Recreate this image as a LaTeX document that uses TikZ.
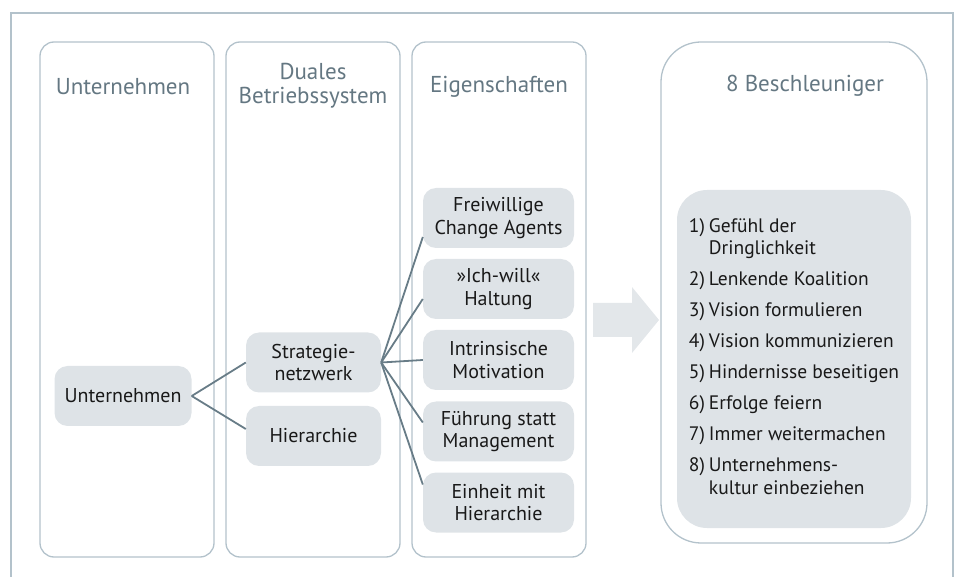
\documentclass[tikz,border=0pt]{standalone}
\usepackage{fontspec}
\setmainfont{PT Sans}
\definecolor{framecol}{HTML}{B3C2CB}
\definecolor{boxfill}{HTML}{DEE3E7}
\definecolor{linecol}{HTML}{687C87}
\definecolor{titlecol}{HTML}{647782}
\definecolor{arrowfill}{HTML}{E3E7EA}
\tikzset{
  column/.style={draw=framecol, line width=1.3pt, rounded corners=14pt},
  coltitle/.style={text=titlecol, font=\fontsize{23}{24}\selectfont, align=center},
  item/.style={fill=boxfill, rounded corners=13pt, minimum height=60pt,
    align=center, inner sep=0pt, text=black!90, font=\fontsize{20}{22.5}\selectfont},
  link/.style={draw=linecol, line width=1.8pt}
}
\begin{document}
\begin{tikzpicture}[x=1pt,y=-1pt]
  \useasboundingbox (0,0) rectangle (954,577);
  \draw[draw=framecol, line width=1.5pt] (11,577) -- (11,13) -- (953,13) -- (953,577);
  \draw[column] (40,42) rectangle (214,557);
  \draw[column] (226,42) rectangle (400,557);
  \draw[column] (412,42) rectangle (586,557);
  \draw[column, rounded corners=40pt] (661,42) rectangle (927,543);
  \node[coltitle] (t1) at (123,87) {Unternehmen};
  \node[coltitle] (t2) at (313,86) {Duales\\Betriebssystem};
  \node[coltitle] (t3) at (499,87) {Eigenschaften};
  \node[coltitle] (t4) at (805,86) {8 Beschleuniger};
  \draw
    (123,396) node[item, minimum width=137pt] (u){Unternehmen}
    (313.5,362.5) node[item, minimum width=135pt] (sn){Strategie-\\netzwerk}
    (313.5,436) node[item, minimum width=135pt] (h){Hierarchie}
    (498.5,218) node[item, minimum width=151pt] (e1){Freiwillige\\Change Agents}
    (498.5,289) node[item, minimum width=151pt] (e2){»Ich-will«\\Haltung}
    (498.5,360) node[item, minimum width=151pt] (e3){Intrinsische\\Motivation}
    (498.5,431.5) node[item, minimum width=151pt] (e4){Führung statt\\Management}
    (498.5,502.5) node[item, minimum width=151pt] (e5){Einheit mit\\Hierarchie};
  \node[fill=boxfill, rounded corners=30pt, minimum width=234pt, minimum height=338pt,
    text=black!90, font=\fontsize{19.5}{22.5}\selectfont] (list) at (794,359)
    {\begin{tabular}{@{}l@{\hspace{4pt}}l@{}}
      1) & Gefühl der\\
         & Dringlichkeit\\[8.5pt]
      2) & Lenkende Koalition\\[8.5pt]
      3) & Vision formulieren\\[8.5pt]
      4) & Vision kommunizieren\\[8.5pt]
      5) & Hindernisse beseitigen\\[8.5pt]
      6) & Erfolge feiern\\[8.5pt]
      7) & Immer weitermachen\\[8.5pt]
      8) & Unternehmens-\\
         & kultur einbeziehen
    \end{tabular}};
  \fill[arrowfill] (593,303) -- (632,303) -- (632,287) -- (659,320)
    -- (632,353) -- (632,337) -- (593,337) -- cycle;
  \begin{scope}[link]
    \draw (u.east) -- (sn.west);
    \draw (u.east) -- ([yshift=7pt]h.west);
    \draw (sn.east) -- ([yshift=-19pt]e1.west);
    \draw (sn.east) -- ([yshift=-10pt]e2.west);
    \draw (sn.east) -- (e3.west);
    \draw (sn.east) -- ([yshift=9pt]e4.west);
    \draw (sn.east) -- ([yshift=18pt]e5.west);
  \end{scope}
\end{tikzpicture}
\end{document}
